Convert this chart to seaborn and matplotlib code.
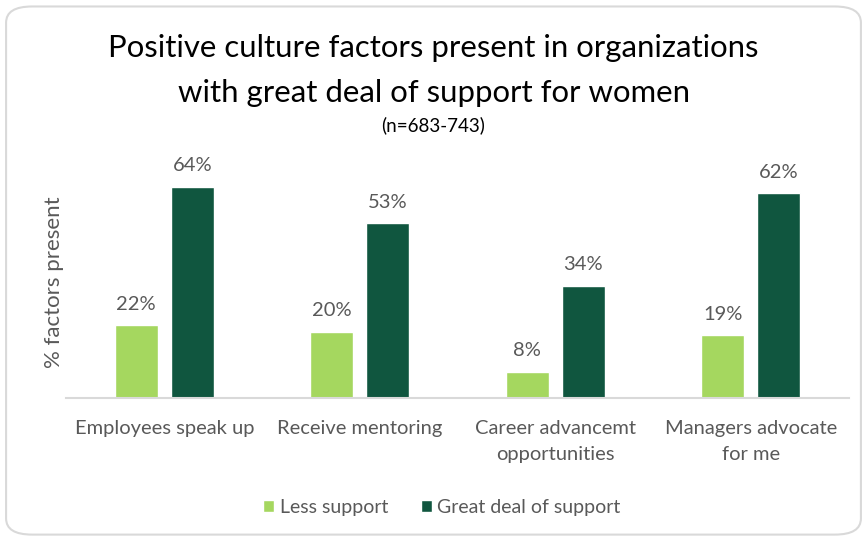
import matplotlib
matplotlib.use("Agg")
import matplotlib.pyplot as plt
from matplotlib.patches import FancyBboxPatch
import seaborn as sns
import pandas as pd

categories = ["Employees speak up", "Receive mentoring",
              "Career advancemt\nopportunities", "Managers advocate\nfor me"]
less_support = [22, 20, 8, 19]
great_support = [64, 53, 34, 62]
series_names = ["Less support", "Great deal of support"]
colors = ["#A5D75F", "#10563F"]

df = pd.DataFrame({
    "category": categories * 2,
    "value": less_support + great_support,
    "series": [series_names[0]] * 4 + [series_names[1]] * 4,
})

sns.set_theme(style="white")
plt.rcParams["font.family"] = ["Lato", "DejaVu Sans"]
grey = "#595959"

fig = plt.figure(figsize=(8.67, 5.4), dpi=100)

# rounded chart-area frame
frame = FancyBboxPatch((0.007, 0.01), 0.986, 0.978,
                       boxstyle="round,pad=0,rounding_size=0.03",
                       transform=fig.transFigure, facecolor="white",
                       edgecolor="#D9D9D9", linewidth=1.5, zorder=-5)
fig.patches.append(frame)

ax = fig.add_axes([0.0767, 0.263, 0.902, 0.4278])
ax.set_zorder(2)
sns.barplot(data=df, x="category", y="value", hue="series",
            palette=colors, width=0.573, gap=0.232, ax=ax,
            saturation=1, legend=True)

ax.set_ylim(0, 70)
ax.set_yticks([])
ax.set_xlabel("")
ax.set_ylabel("% factors present", fontsize=16, color=grey, labelpad=1.5)
ax.set_facecolor("none")
for s in ["top", "right", "left"]:
    ax.spines[s].set_visible(False)
ax.spines["bottom"].set_color("#D9D9D9")
ax.spines["bottom"].set_linewidth(1.5)
ax.tick_params(axis="x", length=0, pad=16, labelsize=14.5, labelcolor=grey)
for lbl in ax.get_xticklabels():
    lbl.set_linespacing(1.65)

for cont in ax.containers:
    ax.bar_label(cont, labels=[f"{v:.0f}%" for v in cont.datavalues],
                 padding=9, fontsize=14.5, color=grey)

leg = ax.legend(loc="center", bbox_to_anchor=(0.48, -0.472), ncol=2,
                frameon=False, fontsize=14, handlelength=0.57,
                handleheight=0.57, columnspacing=1.7, handletextpad=0.26)
for t in leg.get_texts():
    t.set_color(grey)

fig.text(0.5, 0.912, "Positive culture factors present in organizations",
         ha="center", va="center", fontsize=22.4, color="black")
fig.text(0.5, 0.827, "with great deal of support for women",
         ha="center", va="center", fontsize=22.4, color="black")
fig.text(0.5, 0.768, "(n=683-743)", ha="center", va="center",
         fontsize=13.5, color="black")

fig.savefig("out.png", dpi=100)
